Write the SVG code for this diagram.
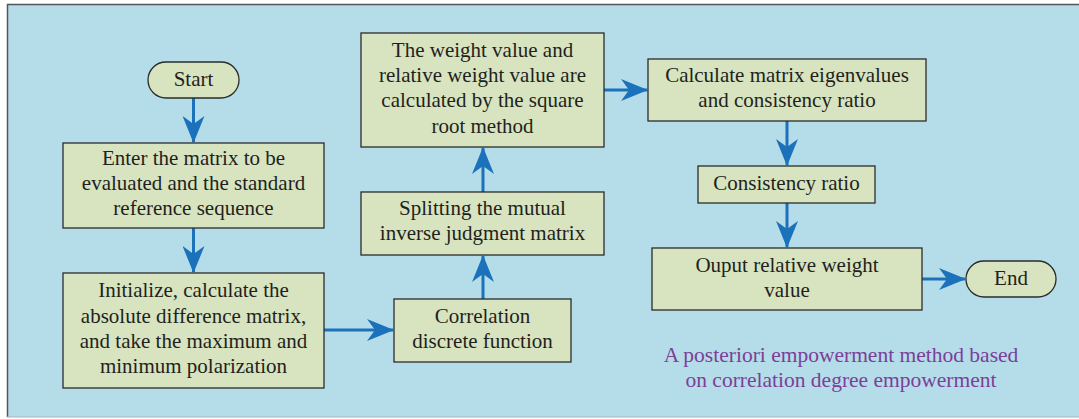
<svg xmlns="http://www.w3.org/2000/svg" width="1079" height="419" viewBox="0 0 1079 419">
<style>
.box{fill:#d7e4bf;stroke:#2b2b2b;stroke-width:1.3}
.t{font-family:"Liberation Serif","Times New Roman",serif;font-size:21px;fill:#231f20;text-anchor:middle}
.cap{font-family:"Liberation Serif","Times New Roman",serif;font-size:21.5px;fill:#7b3f98;text-anchor:middle}
.c{stroke:#1b72ba;stroke-width:3;fill:none}
</style>
<defs>
<marker id="ah" markerUnits="userSpaceOnUse" markerWidth="28" markerHeight="22" refX="26" refY="11" orient="auto">
<path d="M0,0 L27,11 L0,22 L8,11 z" fill="#1b72ba"/>
</marker>
</defs>
<rect x="7" y="4" width="1080" height="413" fill="#b5dce9"/>
<line x1="7" y1="4.5" x2="1079" y2="4.5" stroke="#555" stroke-width="1.5"/>
<line x1="7.5" y1="4" x2="7.5" y2="417" stroke="#555" stroke-width="1.5"/>
<line x1="7" y1="417" x2="1079" y2="417" stroke="#9fb8c2" stroke-width="1"/>
<g id="connectors">
<line class="c" x1="193.5" y1="98" x2="193.5" y2="142" marker-end="url(#ah)"/>
<line class="c" x1="193.5" y1="228" x2="193.5" y2="272" marker-end="url(#ah)"/>
<line class="c" x1="324" y1="330" x2="393" y2="330" marker-end="url(#ah)"/>
<line class="c" x1="483" y1="299" x2="483" y2="256" marker-end="url(#ah)"/>
<line class="c" x1="483" y1="192" x2="483" y2="148" marker-end="url(#ah)"/>
<line class="c" x1="604" y1="90" x2="647" y2="90" marker-end="url(#ah)"/>
<line class="c" x1="787" y1="121" x2="787" y2="165" marker-end="url(#ah)"/>
<line class="c" x1="787" y1="203" x2="787" y2="247" marker-end="url(#ah)"/>
<line class="c" x1="922" y1="279" x2="965" y2="279" marker-end="url(#ah)"/>
</g>
<g id="start">
<rect class="box" x="148" y="62" width="91" height="36" rx="18"/>
<text class="t" x="193.5" y="86">Start</text>
</g>
<g id="enter">
<rect class="box" x="63" y="143" width="261" height="85"/>
<text class="t" x="193.5" y="165">Enter the matrix to be</text>
<text class="t" x="193.5" y="190">evaluated and the standard</text>
<text class="t" x="193.5" y="215">reference sequence</text>
</g>
<g id="init">
<rect class="box" x="63" y="273" width="261" height="115"/>
<text class="t" x="193.5" y="297">Initialize, calculate the</text>
<text class="t" x="193.5" y="323">absolute difference matrix,</text>
<text class="t" x="193.5" y="348">and take the maximum and</text>
<text class="t" x="193.5" y="373">minimum polarization</text>
</g>
<g id="correlation">
<rect class="box" x="394" y="299" width="177" height="63"/>
<text class="t" x="482.5" y="323">Correlation</text>
<text class="t" x="482.5" y="348">discrete function</text>
</g>
<g id="splitting">
<rect class="box" x="361" y="192" width="243" height="63"/>
<text class="t" x="482.5" y="215">Splitting the mutual</text>
<text class="t" x="482.5" y="240">inverse judgment matrix</text>
</g>
<g id="weight">
<rect class="box" x="361" y="33" width="243" height="114"/>
<text class="t" x="482.5" y="57">The weight value and</text>
<text class="t" x="482.5" y="82">relative weight value are</text>
<text class="t" x="482.5" y="107">calculated by the square</text>
<text class="t" x="482.5" y="133">root method</text>
</g>
<g id="calculate">
<rect class="box" x="648" y="59" width="278" height="62"/>
<text class="t" x="787" y="82">Calculate matrix eigenvalues</text>
<text class="t" x="787" y="107">and consistency ratio</text>
</g>
<g id="consistency">
<rect class="box" x="698" y="166" width="177" height="37"/>
<text class="t" x="786.5" y="190">Consistency ratio</text>
</g>
<g id="output">
<rect class="box" x="652" y="248" width="270" height="62"/>
<text class="t" x="787" y="272">Ouput relative weight</text>
<text class="t" x="787" y="297">value</text>
</g>
<g id="end">
<rect class="box" x="966" y="261" width="90" height="36" rx="18"/>
<text class="t" x="1011" y="285">End</text>
</g>
<g id="caption">
<text class="cap" x="841" y="362">A posteriori empowerment method based</text>
<text class="cap" x="841" y="387">on correlation degree empowerment</text>
</g>
</svg>
